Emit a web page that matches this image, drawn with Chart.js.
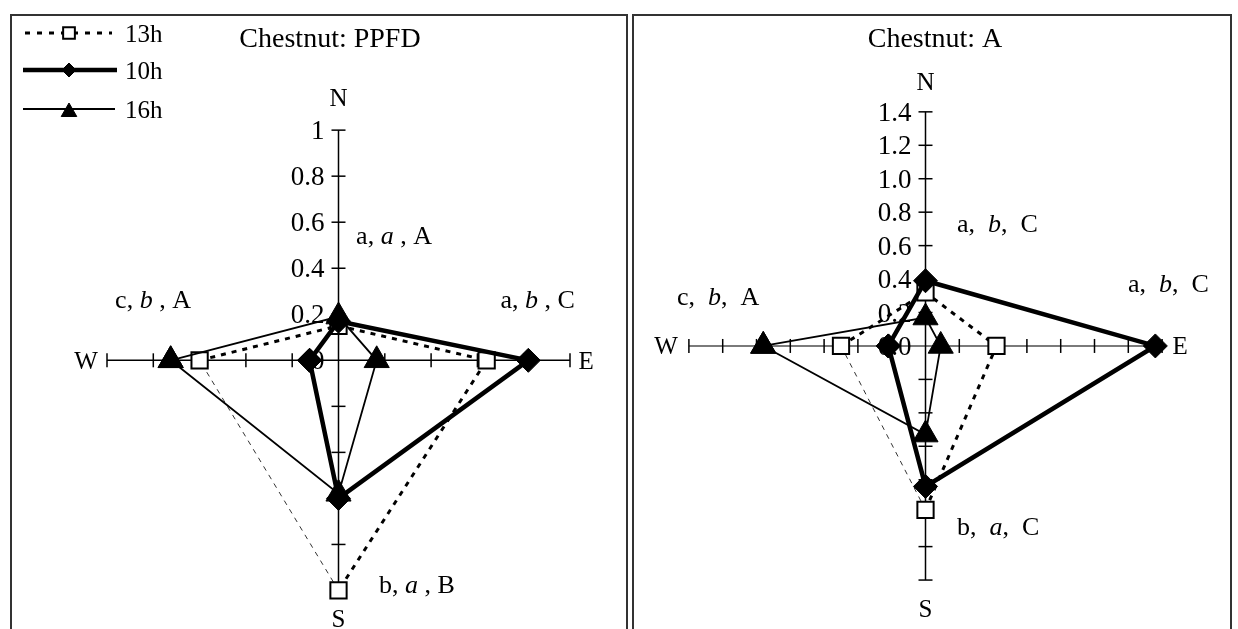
<!DOCTYPE html>
<html>
<head>
<meta charset="utf-8">
<title>Chestnut PPFD / A</title>
<script src="https://cdn.jsdelivr.net/npm/chart.js@4.4.0/dist/chart.umd.min.js"></script>
<style>
  html, body { margin: 0; padding: 0; background: #fff; overflow: hidden; }
  #wrap { position: relative; width: 1238px; height: 629px; }
  #wrap canvas { position: absolute; left: 0; top: 0; }
  .frame { position: absolute; top: 14px; height: 660px; border: 2px solid #333; box-sizing: border-box; }
</style>
</head>
<body>
<div id="wrap">
  <div class="frame" style="left:10px;width:618px"></div>
  <div class="frame" style="left:632px;width:600px"></div>
  <canvas id="ppfdChart" width="1238" height="629"></canvas>
  <canvas id="aChart" width="1238" height="629"></canvas>
</div>
<script>
// direcoes, na ordem N, E, S, W
const directions = ['N', 'E', 'S', 'W'];
const seriesNames = ['13h', '10h', '16h'];

// Chestnut: PPFD (valores por direcao N, E, S, W)
const ppfd13h = [0.15, 0.64, 1.00, 0.60];
const ppfd10h = [0.17, 0.82, 0.60, 0.125];
const ppfd16h = [0.19, 0.165, 0.58, 0.725];
const ppfdTicks = ['0', '0.2', '0.4', '0.6', '0.8', '1'];
const ppfdLetters = [['a', 'a', 'A'], ['a', 'b', 'C'], ['b', 'a', 'B'], ['c', 'b', 'A']];

// Chestnut: A
const a13h = [0.32, 0.42, 0.98, 0.50];
const a10h = [0.39, 1.36, 0.84, 0.22];
const a16h = [0.17, 0.09, 0.53, 0.96];
const aTicks = ['0.0', '0.2', '0.4', '0.6', '0.8', '1.0', '1.2', '1.4'];
const aLetters = [['a', 'b', 'C'], ['a', 'b', 'C'], ['b', 'a', 'C'], ['c', 'b', 'A']];

const FONT = '"Liberation Serif", "Times New Roman", serif';

function pt(dir, v) {
  if (dir === 'N') return { x: 0, y: v };
  if (dir === 'E') return { x: v, y: 0 };
  if (dir === 'S') return { x: 0, y: -v };
  return { x: -v, y: 0 };
}
function val(arr, dir) { return arr[directions.indexOf(dir)]; }
// W -> N -> E -> S (-> W)
function path(arr, close) {
  const order = close ? ['W', 'N', 'E', 'S', 'W'] : ['W', 'N', 'E', 'S'];
  return order.map(d => pt(d, val(arr, d)));
}

function buildDatasets(s13, s10, s16) {
  return [
    { label: seriesNames[2], data: path(s16, true), order: 0,
      borderColor: '#000', borderWidth: 1.8, pointStyle: 'triangle', pointRadius: 14.5,
      pointBackgroundColor: '#000', pointBorderColor: '#000', pointBorderWidth: 1 },
    { label: seriesNames[1], data: path(s10, true), order: 1,
      borderColor: '#000', borderWidth: 4.5, pointStyle: 'rectRot', pointRadius: 12,
      pointBackgroundColor: '#000', pointBorderColor: '#000', pointBorderWidth: 1 },
    { label: seriesNames[0], data: path(s13, false), order: 2,
      borderColor: '#000', borderWidth: 3, borderDash: [5, 6], pointStyle: 'rect', pointRadius: 11.5,
      pointBackgroundColor: '#fff', pointBorderColor: '#000', pointBorderWidth: 2 },
    // fecho S -> W da serie 13h, tracejado fino
    { label: seriesNames[0] + ' fecho', data: [pt('S', val(s13, 'S')), pt('W', val(s13, 'W'))], order: 3,
      borderColor: '#333', borderWidth: 1, borderDash: [5, 5], pointRadius: 0 }
  ].map(d => ({ ...d, showLine: true, fill: false, clip: false, tension: 0 }));
}

function drawNote(ctx, parts, seps, x, y) {
  const segs = [[parts[0] + seps[0], false], [parts[1], true], [seps[1], false], [parts[2], false]];
  let cx = x;
  segs.forEach(([t, it]) => {
    ctx.font = (it ? 'italic ' : '') + '26px ' + FONT;
    ctx.fillText(t, cx, y);
    cx += ctx.measureText(t).width;
  });
}

const roseAxes = {
  id: 'roseAxes',
  beforeDatasetsDraw(chart, args, o) {
    const { ctx } = chart;
    const sx = chart.scales.x, sy = chart.scales.y;
    const X = v => sx.getPixelForValue(v), Y = v => sy.getPixelForValue(v);
    const vals = o.ticks.map(Number);
    const max = vals[vals.length - 1];
    const x0 = X(0), y0 = Y(0);
    ctx.save();

    // eixos
    ctx.lineWidth = o.hWidth;
    ctx.strokeStyle = o.hColor;
    ctx.beginPath(); ctx.moveTo(X(-max), y0); ctx.lineTo(X(max), y0); ctx.stroke();
    ctx.lineWidth = 1.5;
    ctx.strokeStyle = '#000';
    ctx.beginPath(); ctx.moveTo(x0, Y(max)); ctx.lineTo(x0, Y(-max)); ctx.stroke();

    // marcas cruzadas
    ctx.lineWidth = 1.5;
    vals.forEach(v => {
      if (v === 0) return;
      [v, -v].forEach(t => {
        ctx.beginPath(); ctx.moveTo(X(t), y0 - 7); ctx.lineTo(X(t), y0 + 7); ctx.stroke();
        ctx.beginPath(); ctx.moveTo(x0 - 7, Y(t)); ctx.lineTo(x0 + 7, Y(t)); ctx.stroke();
      });
    });

    // rotulos do eixo N
    ctx.fillStyle = '#000';
    ctx.font = '27px ' + FONT;
    ctx.textAlign = 'right';
    ctx.textBaseline = 'alphabetic';
    o.ticks.forEach(t => ctx.fillText(t, x0 - 14, Y(Number(t)) + 9));

    // N E S W
    ctx.textAlign = 'center';
    ctx.font = '25px ' + FONT;
    o.compass.forEach((c, i) => ctx.fillText(directions[i], X(c[0]), Y(c[1]) + 8.5));

    // letras de significancia
    ctx.textAlign = 'left';
    o.notes.forEach((n, i) => drawNote(ctx, o.letters[i], o.seps, X(n[0]), Y(n[1])));

    // titulo
    ctx.textAlign = 'center';
    ctx.font = '28px ' + FONT;
    ctx.fillText(o.title, o.titleX, 47);

    // legenda
    if (o.legend) {
      const rows = [
        { name: seriesNames[0], y: 33, x1: 25, x2: 112, w: 3, dash: [5, 7], style: 'rect', r: 8.3, fill: '#fff', bw: 2 },
        { name: seriesNames[1], y: 70, x1: 23, x2: 117, w: 4.5, dash: [], style: 'rectRot', r: 7, fill: '#000', bw: 1 },
        { name: seriesNames[2], y: 109, x1: 23, x2: 115, w: 1.8, dash: [], style: 'triangle', r: 9, fill: '#000', bw: 1 }
      ];
      rows.forEach(r => {
        ctx.setLineDash(r.dash);
        ctx.lineWidth = r.w;
        ctx.strokeStyle = '#000';
        ctx.beginPath(); ctx.moveTo(r.x1, r.y); ctx.lineTo(r.x2, r.y); ctx.stroke();
        ctx.setLineDash([]);
        ctx.fillStyle = r.fill;
        ctx.lineWidth = r.bw;
        Chart.helpers.drawPoint(ctx, { pointStyle: r.style, radius: r.r, rotation: 0, borderWidth: r.bw }, 69, r.y + (r.style === 'triangle' ? 3 : 0));
        ctx.fillStyle = '#000';
        ctx.font = '25px ' + FONT;
        ctx.textAlign = 'left';
        ctx.fillText(r.name, 125, r.y + 8.5);
      });
    }
    ctx.restore();
  }
};

function makeChart(id, s13, s10, s16, box, o) {
  return new Chart(document.getElementById(id), {
    type: 'scatter',
    data: { datasets: buildDatasets(s13, s10, s16) },
    options: {
      responsive: false,
      animation: false,
      events: [],
      layout: { padding: box.pad },
      scales: {
        x: { type: 'linear', min: box.x[0], max: box.x[1], display: false },
        y: { type: 'linear', min: box.y[0], max: box.y[1], display: false }
      },
      plugins: { legend: { display: false }, tooltip: { enabled: false }, roseAxes: o }
    },
    plugins: [roseAxes]
  });
}

makeChart('ppfdChart', ppfd13h, ppfd10h, ppfd16h,
  { x: [-1.2, 1.2], y: [-1.1, 1.2], pad: { left: 60.7, right: 621.7, top: 84.1, bottom: 11.3 } },
  { ticks: ppfdTicks, letters: ppfdLetters, seps: [', ', ' , '], hColor: '#000', hWidth: 1.5,
    title: 'Chestnut: PPFD', titleX: 330, legend: true,
    compass: [[0, 1.14], [1.07, 0], [0, -1.12], [-1.09, 0]],
    notes: [[0.076, 0.506], [0.70, 0.226], [0.175, -1.01], [-0.965, 0.226]] });

makeChart('aChart', a13h, a10h, a16h,
  { x: [-1.6, 1.6], y: [-1.6, 1.6], pad: { left: 655.1, right: 42.1, top: 78.4, bottom: 3.4 } },
  { ticks: aTicks, letters: aLetters, seps: [',  ', ',  '], hColor: '#7a7a7a', hWidth: 2,
    title: 'Chestnut: A', titleX: 935, legend: false,
    compass: [[0, 1.58], [1.506, 0], [0, -1.57], [-1.535, 0]],
    notes: [[0.186, 0.684], [1.198, 0.322], [0.186, -1.129], [-1.47, 0.246]] });
</script>
</body>
</html>
